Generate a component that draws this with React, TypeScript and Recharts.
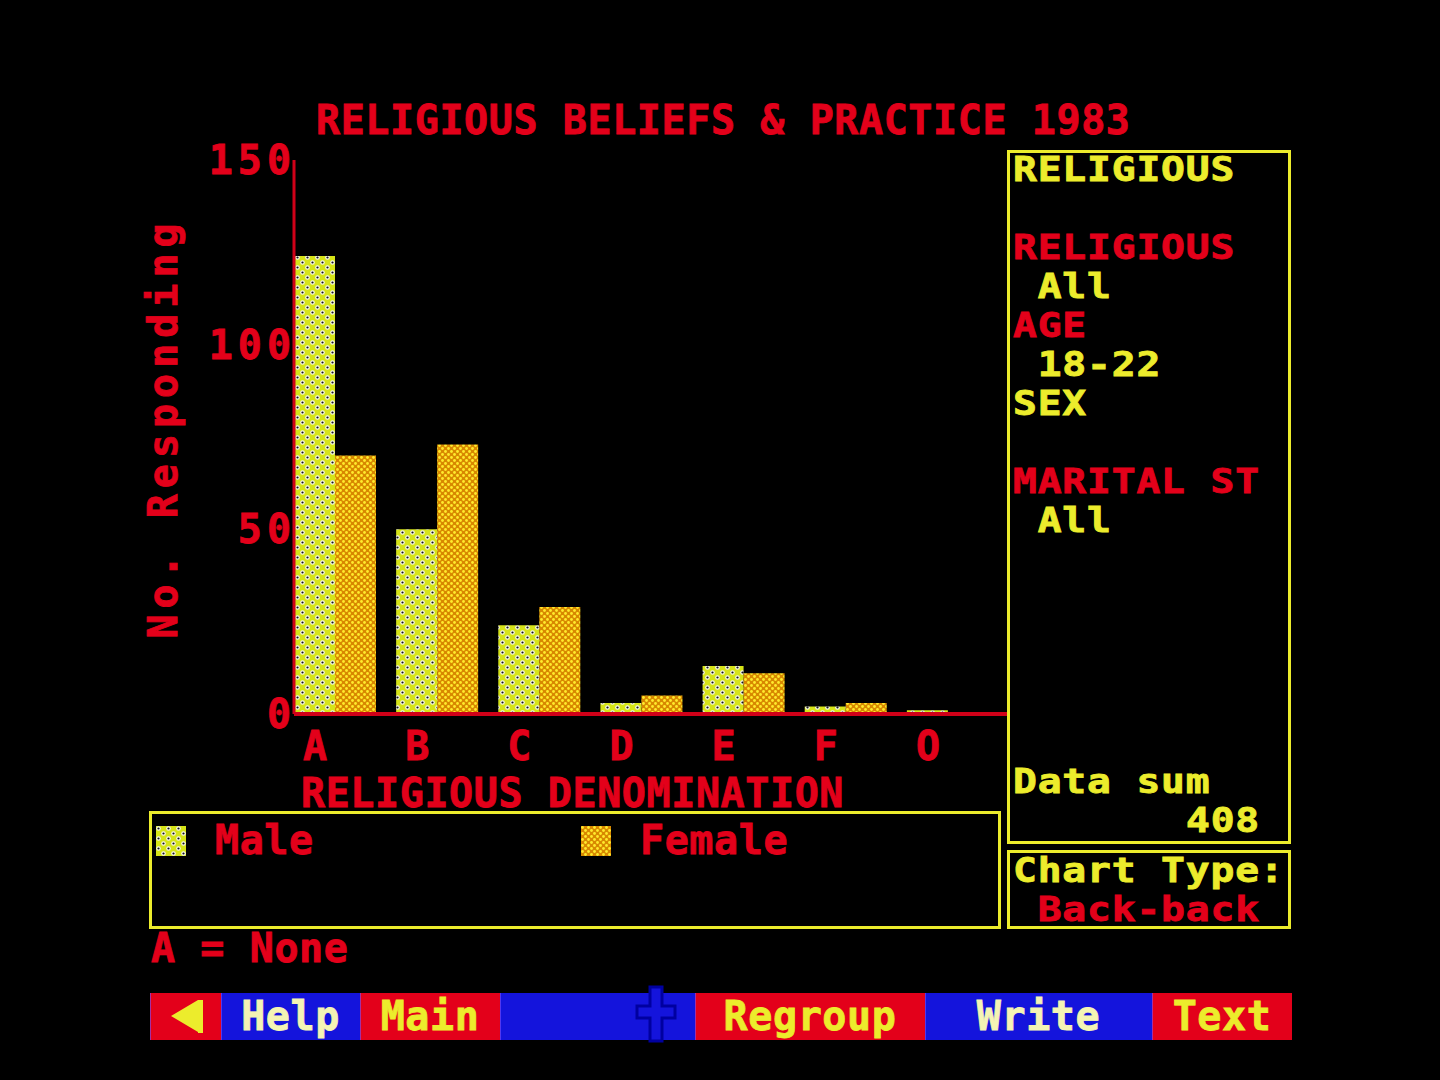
import { BarChart, Bar, XAxis, YAxis } from 'recharts';

// chart values
const categories = ['A', 'B', 'C', 'D', 'E', 'F', 'O'];
const male = [124, 50, 24, 3, 13, 2, 1];
const female = [70, 73, 29, 5, 11, 3, 0];
const yTicks = [0, 50, 100, 150];

const data = categories.map((c, i) => ({ name: c, male: male[i], female: female[i] }));

const RED = '#e3001a';
const YEL = '#ecec2c';
const PALE = '#f4f4b4';
const BLUE = '#1414dc';
const FONT = "'DejaVu Sans Mono', monospace";

// side panel text rows
const panelTop = [
  { row: 0, text: 'RELIGIOUS', color: YEL },
  { row: 2, text: 'RELIGIOUS', color: RED },
  { row: 3, text: ' All', color: YEL },
  { row: 4, text: 'AGE', color: RED },
  { row: 5, text: ' 18-22', color: YEL },
  { row: 6, text: 'SEX', color: YEL },
  { row: 8, text: 'MARITAL ST', color: RED },
  { row: 9, text: ' All', color: YEL },
];

const menu = [
  { w: 71, bg: RED, label: '', color: YEL },
  { w: 139, bg: BLUE, label: 'Help', color: PALE },
  { w: 140, bg: RED, label: 'Main', color: YEL },
  { w: 195, bg: BLUE, label: '', color: PALE },
  { w: 230, bg: RED, label: 'Regroup', color: YEL },
  { w: 227, bg: BLUE, label: 'Write', color: PALE },
  { w: 140, bg: RED, label: 'Text', color: YEL },
];

const Txt = ({
  x,
  y,
  color,
  size = 40,
  sx = 1,
  ls = 0.6,
  children,
}: {
  x: number;
  y: number;
  color: string;
  size?: number;
  sx?: number;
  ls?: number;
  children: any;
}) => (
  <div
    style={{
      position: 'absolute',
      left: x,
      top: y - 20,
      height: 40,
      lineHeight: '40px',
      fontSize: size,
      fontFamily: FONT,
      fontWeight: 'bold',
      letterSpacing: ls,
      color,
      whiteSpace: 'pre',
      WebkitTextStroke: `0.8px ${color}`,
      transform: sx !== 1 ? `scaleX(${sx})` : undefined,
      transformOrigin: 'left center',
    }}
  >
    {children}
  </div>
);

// compact text for the tightly packed side panel
const PTxt = (p: { x: number; y: number; color: string; children: any }) => (
  <Txt {...p} size={33} sx={1.2} ls={0.7} />
);

const Patterns = ({ p }: { p: string }) => (
  <defs>
    <pattern id={p + 'male'} patternUnits="userSpaceOnUse" width={10} height={10}>
      <rect width={10} height={10} fill="#d6e418" />
      <circle cx={2.5} cy={2.5} r={2.3} fill="#f6f6ea" />
      <circle cx={7.5} cy={7.5} r={2.3} fill="#f6f6ea" />
      <circle cx={2.5} cy={2.5} r={1.1} fill="#151515" />
      <circle cx={7.5} cy={7.5} r={1.1} fill="#151515" />
    </pattern>
    <pattern id={p + 'female'} patternUnits="userSpaceOnUse" width={6} height={6}>
      <rect width={6} height={6} fill="#d88800" />
      <circle cx={1.5} cy={1.5} r={1.4} fill="#ffea2c" />
      <circle cx={4.5} cy={4.5} r={1.4} fill="#ffea2c" />
    </pattern>
  </defs>
);

const XTick = (props: any) => {
  const { x, y, payload } = props;
  return (
    <text
      x={x - 30}
      y={y + 46}
      textAnchor="middle"
      fill={RED}
      stroke={RED}
      strokeWidth={0.8}
      fontSize={40}
      fontFamily={FONT}
      fontWeight="bold"
    >
      {payload.value}
    </text>
  );
};

const YTick = (props: any) => {
  const { x, y, payload } = props;
  return (
    <text
      x={x + 2}
      y={y + 14}
      textAnchor="end"
      fill={RED}
      stroke={RED}
      strokeWidth={0.8}
      fontSize={40}
      fontFamily={FONT}
      fontWeight="bold"
      letterSpacing={5}
    >
      {payload.value}
    </text>
  );
};

const Swatch = ({ x, id }: { x: number; id: string }) => (
  <svg width={30} height={30} style={{ position: 'absolute', left: x, top: 826 }}>
    <Patterns p="lg" />
    <rect width={30} height={30} fill={`url(#lg${id})`} />
  </svg>
);

const box = (l: number, t: number, r: number, b: number) => ({
  position: 'absolute' as const,
  left: l,
  top: t,
  width: r - l - 6,
  height: b - t - 6,
  border: `3px solid ${YEL}`,
});

export default function App() {
  return (
    <div style={{ position: 'absolute', left: 0, top: 0, width: 1440, height: 1080, background: '#000', overflow: 'hidden' }}>
      <BarChart
        width={1440}
        height={1080}
        data={data}
        margin={{ top: 160, right: 431, bottom: 316, left: 204 }}
        barGap={0}
        barCategoryGap={0}
        style={{ position: 'absolute', left: 0, top: 0 }}
      >
        <Patterns p="bar" />
        <XAxis
          dataKey="name"
          height={50}
          axisLine={{ stroke: '#d00018', strokeWidth: 4 }}
          tickLine={false}
          tickSize={0}
          tickMargin={0}
          tick={<XTick />}
          interval={0}
        />
        <YAxis
          width={90}
          domain={[0, 150]}
          ticks={yTicks}
          axisLine={{ stroke: '#d00018', strokeWidth: 3 }}
          tickLine={false}
          tickSize={0}
          tickMargin={0}
          tick={<YTick />}
          interval={0}
        />
        <Bar dataKey="male" barSize={41} fill="url(#barmale)" isAnimationActive={false} />
        <Bar dataKey="female" barSize={41} fill="url(#barfemale)" isAnimationActive={false} />
        <Bar dataKey="spacer" barSize={20} fill="none" isAnimationActive={false} />
      </BarChart>

      <Txt x={316} y={120} color={RED}>RELIGIOUS BELIEFS &amp; PRACTICE 1983</Txt>
      <Txt x={301} y={793} color={RED}>RELIGIOUS DENOMINATION</Txt>

      <div
        style={{
          position: 'absolute',
          left: 163 - 215,
          top: 428 - 20,
          width: 430,
          height: 40,
          lineHeight: '40px',
          textAlign: 'center',
          fontSize: 40,
          fontFamily: FONT,
          fontWeight: 'bold',
          letterSpacing: 6,
          color: RED,
          WebkitTextStroke: `0.8px ${RED}`,
          whiteSpace: 'pre',
          transform: 'rotate(-90deg)',
        }}
      >
        No. Responding
      </div>

      {/* legend */}
      <div style={box(149, 811, 1001, 929)} />
      <Swatch x={156} id="male" />
      <Txt x={215} y={840} color={RED}>Male</Txt>
      <Swatch x={581} id="female" />
      <Txt x={640} y={840} color={RED}>Female</Txt>
      <Txt x={151} y={948} color={RED}>A = None</Txt>

      {/* side panel */}
      <div style={box(1007, 150, 1291, 844)} />
      <div style={box(1007, 850, 1291, 929)} />
      {panelTop.map((p, i) => (
        <PTxt key={i} x={1013} y={170 + 39 * p.row} color={p.color}>
          {p.text}
        </PTxt>
      ))}
      <PTxt x={1013} y={782} color={YEL}>Data sum</PTxt>
      <PTxt x={1186} y={821} color={YEL}>{String(male.concat(female).reduce((a, b) => a + b, 0))}</PTxt>
      <PTxt x={1013} y={871} color={YEL}>Chart Type:</PTxt>
      <PTxt x={1013} y={910} color={RED}> Back-back</PTxt>

      {/* menu bar */}
      <div style={{ position: 'absolute', left: 150, top: 993, height: 47, display: 'flex' }}>
        {menu.map((m, i) => (
          <div
            key={i}
            style={{
              width: m.w,
              height: 47,
              background: m.bg,
              position: 'relative',
              boxShadow: 'inset 1px 0 0 rgba(120,80,255,0.6)',
            }}
          >
            {m.label && (
              <div
                style={{
                  position: 'absolute',
                  left: 0,
                  right: 0,
                  top: 3,
                  textAlign: 'center',
                  lineHeight: '40px',
                  fontSize: 40,
                  fontFamily: FONT,
                  fontWeight: 'bold',
                  letterSpacing: 0.6,
                  color: m.color,
                  WebkitTextStroke: `0.8px ${m.color}`,
                }}
              >
                {m.label}
              </div>
            )}
          </div>
        ))}
      </div>
      <svg width={40} height={40} style={{ position: 'absolute', left: 168, top: 996 }}>
        <polygon points="3,20 30,4 30,36" fill={YEL} />
        <rect x={30} y={4} width={5} height={33} fill={YEL} />
      </svg>
      <svg width={44} height={60} style={{ position: 'absolute', left: 634, top: 984 }}>
        <path
          d="M16 3 H28 V22 H41 V34 H28 V57 H16 V34 H3 V22 H16 Z"
          fill={BLUE}
          stroke="#0000a0"
          strokeWidth={3}
        />
      </svg>
    </div>
  );
}
